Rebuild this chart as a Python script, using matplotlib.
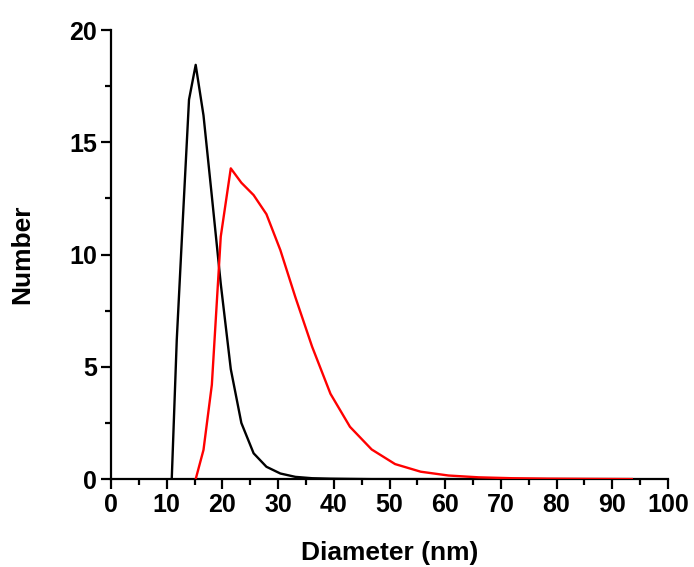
import matplotlib
matplotlib.use("Agg")
import matplotlib.pyplot as plt
from matplotlib.ticker import MultipleLocator

# Diameter bins (nm)
diameter = [10.9, 11.8, 12.9, 14.0, 15.2, 16.6, 18.1, 19.7, 21.5, 23.4, 25.6,
            27.9, 30.4, 33.1, 36.1, 39.4, 42.9, 46.8, 51.0, 55.6, 60.6, 66.0,
            72.0, 78.5, 85.5, 93.5]

# Black series (Number %)
black_number = [0.0, 6.2, 11.6, 16.9, 18.45, 16.2, 12.6, 8.7, 4.9, 2.5, 1.15,
                0.55, 0.25, 0.1, 0.04, 0.02, 0.01, 0.0, 0.0, 0.0, 0.0, 0.0,
                0.0, 0.0, 0.0, 0.0]

# Red series (Number %), starts at the 15.2 nm bin
red_diameter = diameter[4:]
red_number = [0.0, 1.3, 4.2, 10.8, 13.84, 13.2, 12.65, 11.8, 10.2, 8.1, 5.9,
              3.8, 2.33, 1.32, 0.67, 0.33, 0.16, 0.08, 0.04, 0.02, 0.01, 0.0]

x_ticks = [0, 10, 20, 30, 40, 50, 60, 70, 80, 90, 100]
y_ticks = [0, 5, 10, 15, 20]

plt.rcParams['font.family'] = ['Liberation Sans', 'DejaVu Sans']
plt.rcParams['font.weight'] = 'bold'

fig = plt.figure(figsize=(6.94, 5.67), dpi=100)
ax = fig.add_axes([0.160, 0.155, 0.8025, 0.792])

ax.plot(diameter, black_number, color='black', lw=1.7, zorder=3)
ax.plot(red_diameter, red_number, color='#ff0000', lw=1.7, zorder=4)

ax.set_xlim(0, 100)
ax.set_ylim(0, 20)
ax.set_xticks(x_ticks)
ax.set_yticks(y_ticks)
ax.xaxis.set_minor_locator(MultipleLocator(5))
ax.yaxis.set_minor_locator(MultipleLocator(2.5))

for s in ['top', 'right']:
    ax.spines[s].set_visible(False)
for s in ['left', 'bottom']:
    ax.spines[s].set_linewidth(1.6)

ax.tick_params(which='major', direction='out', length=7, width=1.6,
               labelsize=18, pad=3)
ax.tick_params(which='minor', direction='out', length=4, width=1.6)
for lab in ax.get_xticklabels() + ax.get_yticklabels():
    lab.set_fontweight('bold')

ax.set_xlabel('Diameter (nm)', fontsize=19, fontweight='bold', labelpad=17)
ax.set_ylabel('Number', fontsize=19, fontweight='bold', labelpad=25)

fig.savefig('out.png', dpi=100)
